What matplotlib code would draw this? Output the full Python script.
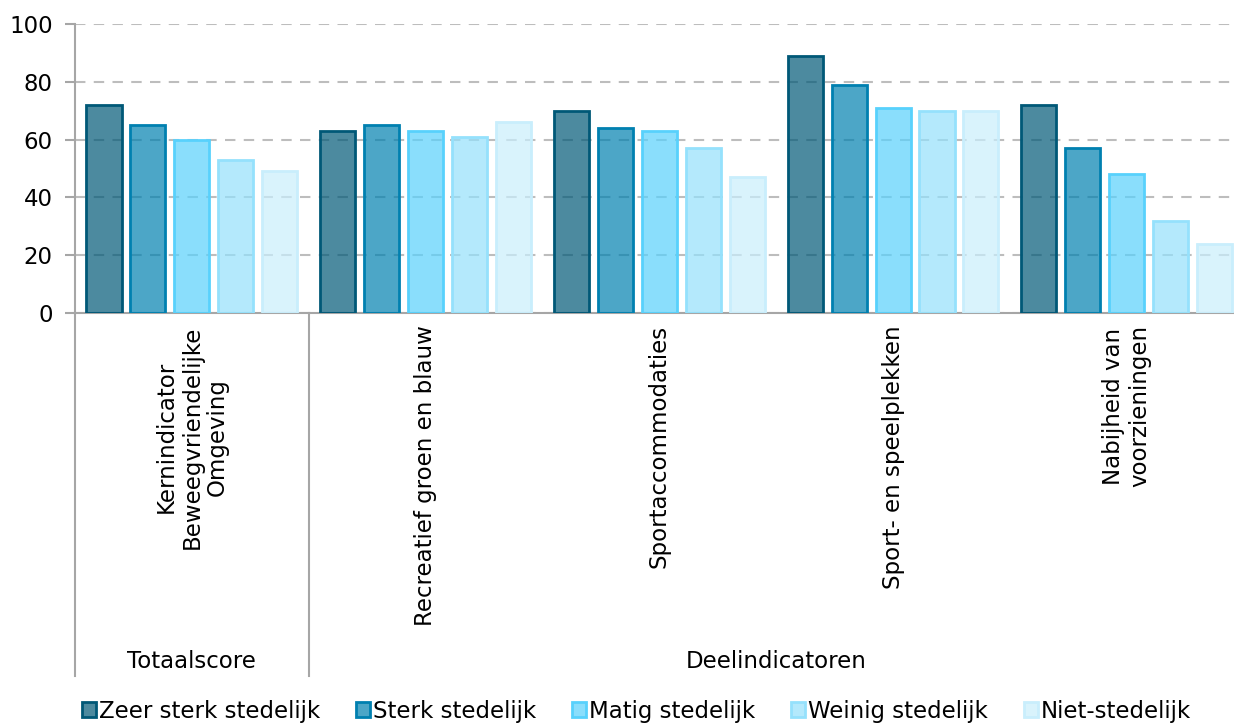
import matplotlib.pyplot as plt
import matplotlib.colors as mcolors
from matplotlib.patches import Patch
import numpy as np

plt.rcParams['font.family'] = ['DejaVu Sans']

# data
categories = ['Kernindicator\nBeweegvriendelijke\nOmgeving', 'Recreatief groen en blauw',
              'Sportaccommodaties', 'Sport- en speelplekken', 'Nabijheid van\nvoorzieningen']
series = ['Zeer sterk stedelijk', 'Sterk stedelijk', 'Matig stedelijk', 'Weinig stedelijk', 'Niet-stedelijk']
values = [
    [72, 63, 70, 89, 72],
    [65, 65, 64, 79, 57],
    [60, 63, 63, 71, 48],
    [53, 61, 57, 70, 32],
    [49, 66, 47, 70, 24],
]
groups = ['Totaalscore', 'Deelindicatoren']
group_centers = [0, 2.5]
group_bounds = [-0.5, 0.5, 4.5]

colors = ['#005877', '#0080b0', '#58d1fc', '#95e1fc', '#c9eefc']

fig = plt.figure(figsize=(12.34, 7.25), dpi=100)
# axes runs slightly past the right edge of the picture, as in the original
ax = fig.add_axes([0.0608, 0.568, 0.947, 0.399])

x = np.arange(len(categories))
step = 0.188
width = 0.15
for i, s in enumerate(series):
    pos = x - 2 * step + i * step
    ax.bar(pos, values[i], width=width, color=mcolors.to_rgba(colors[i], 0.7),
           edgecolor=colors[i], linewidth=2, zorder=3, label=s)

ax.set_xlim(-0.5, 4.5)
ax.set_ylim(0, 100)
ax.set_yticks(range(0, 101, 20))
ax.yaxis.grid(True, color='#bdbdbd', linestyle=(0, (5, 4)), linewidth=1.5, zorder=1)
ax.set_axisbelow(True)
ax.set_xticks([])
for sp in ['top', 'right']:
    ax.spines[sp].set_visible(False)
for sp in ['left', 'bottom']:
    ax.spines[sp].set_color('#a6a6a6')
    ax.spines[sp].set_linewidth(1.5)
ax.tick_params(axis='y', length=7, width=1.5, color='#a6a6a6', labelsize=16.5, pad=9)

# category labels
for xi, lab in zip(x, categories):
    ax.annotate(lab, xy=(xi, 0), xycoords=('data', 'axes fraction'), xytext=(0, -12),
                textcoords='offset pixels', rotation=90, ha='center', va='top',
                multialignment='center', fontsize=16.5, linespacing=1.15)

# group separators and group labels
for b in group_bounds:
    ax.plot([b, b], [0, -1.253], transform=ax.get_xaxis_transform(), color='#a6a6a6',
            linewidth=1.5, clip_on=False)
for gc, g in zip(group_centers, groups):
    ax.annotate(g, xy=(gc, 0), xycoords=('data', 'axes fraction'), xytext=(0, -348),
                textcoords='offset pixels', ha='center', va='center', fontsize=16.5)

handles = [Patch(facecolor=mcolors.to_rgba(c, 0.7), edgecolor=c, linewidth=2) for c in colors]
fig.legend(handles, series, loc='center', bbox_to_anchor=(0.516, 0.019), ncol=5, frameon=False,
           fontsize=16.5, handlelength=0.6, handleheight=0.6, handletextpad=0.15, columnspacing=1.55)

fig.savefig('out.png', dpi=100)
